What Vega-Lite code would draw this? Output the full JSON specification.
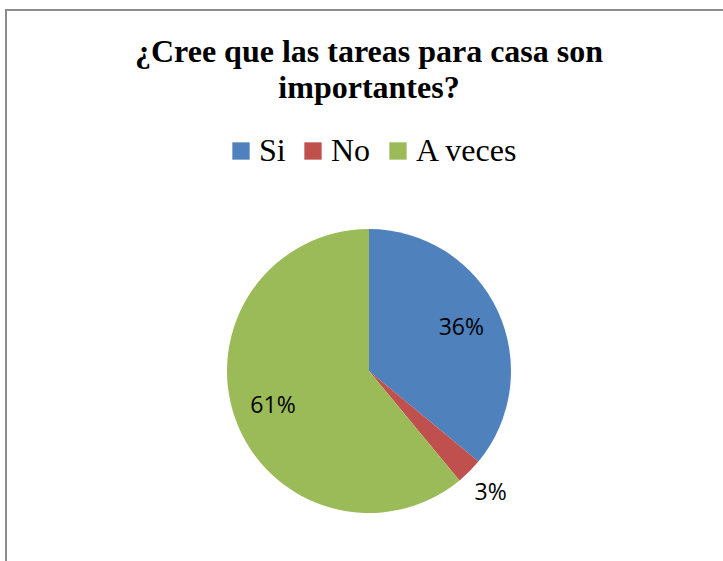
{
  "$schema": "https://vega.github.io/schema/vega-lite/v6.json",
  "width": 726,
  "height": 722,
  "padding": {"left": 6, "top": 10, "right": 0, "bottom": 0},
  "background": "white",
  "view": {"stroke": "#8c8c8c", "strokeWidth": 2},
  "title": {
    "text": ["¿Cree que las tareas para casa son", "importantes?"],
    "font": "Liberation Serif",
    "fontSize": 32,
    "fontWeight": "bold",
    "color": "black",
    "anchor": "middle",
    "lineHeight": 36,
    "offset": -95
  },
  "data": {
    "values": [
      {"respuesta": "Si", "proporcion": 0.36, "orden": 1},
      {"respuesta": "No", "proporcion": 0.03, "orden": 2},
      {"respuesta": "A veces", "proporcion": 0.61, "orden": 3}
    ]
  },
  "encoding": {
    "theta": {"field": "proporcion", "type": "quantitative", "stack": true},
    "order": {"field": "orden", "type": "quantitative"}
  },
  "layer": [
    {
      "mark": {"type": "arc", "outerRadius": 142},
      "encoding": {
        "color": {
          "field": "respuesta",
          "type": "nominal",
          "sort": ["Si", "No", "A veces"],
          "scale": {"domain": ["Si", "No", "A veces"], "range": ["#4F81BD", "#C0504D", "#9BBB59"]},
          "legend": {
            "title": null,
            "orient": "none",
            "direction": "horizontal",
            "legendX": 219,
            "legendY": 125,
            "padding": 0,
            "symbolType": "square",
            "symbolSize": 300,
            "symbolStrokeWidth": 0,
            "labelFont": "Liberation Serif",
            "labelFontSize": 32,
            "labelColor": "black",
            "labelOffset": 2,
            "columnPadding": 11
          }
        }
      }
    },
    {
      "mark": {"type": "text", "radius": 102, "font": "Open Sans", "fontSize": 23, "color": "black"},
      "encoding": {
        "text": {"field": "proporcion", "type": "quantitative", "format": ".0%"},
        "opacity": {"condition": {"test": "datum.respuesta === 'No'", "value": 0}, "value": 1}
      }
    },
    {
      "mark": {"type": "text", "radius": 172, "font": "Open Sans", "fontSize": 23, "color": "black"},
      "encoding": {
        "text": {"field": "proporcion", "type": "quantitative", "format": ".0%"},
        "opacity": {"condition": {"test": "datum.respuesta === 'No'", "value": 1}, "value": 0}
      }
    }
  ],
  "config": {
    "view": {"stroke": "#8c8c8c", "strokeWidth": 2},
    "style": {"view": {"stroke": "#8c8c8c", "strokeWidth": 2}, "cell": {"stroke": "#8c8c8c", "strokeWidth": 2}}
  }
}
